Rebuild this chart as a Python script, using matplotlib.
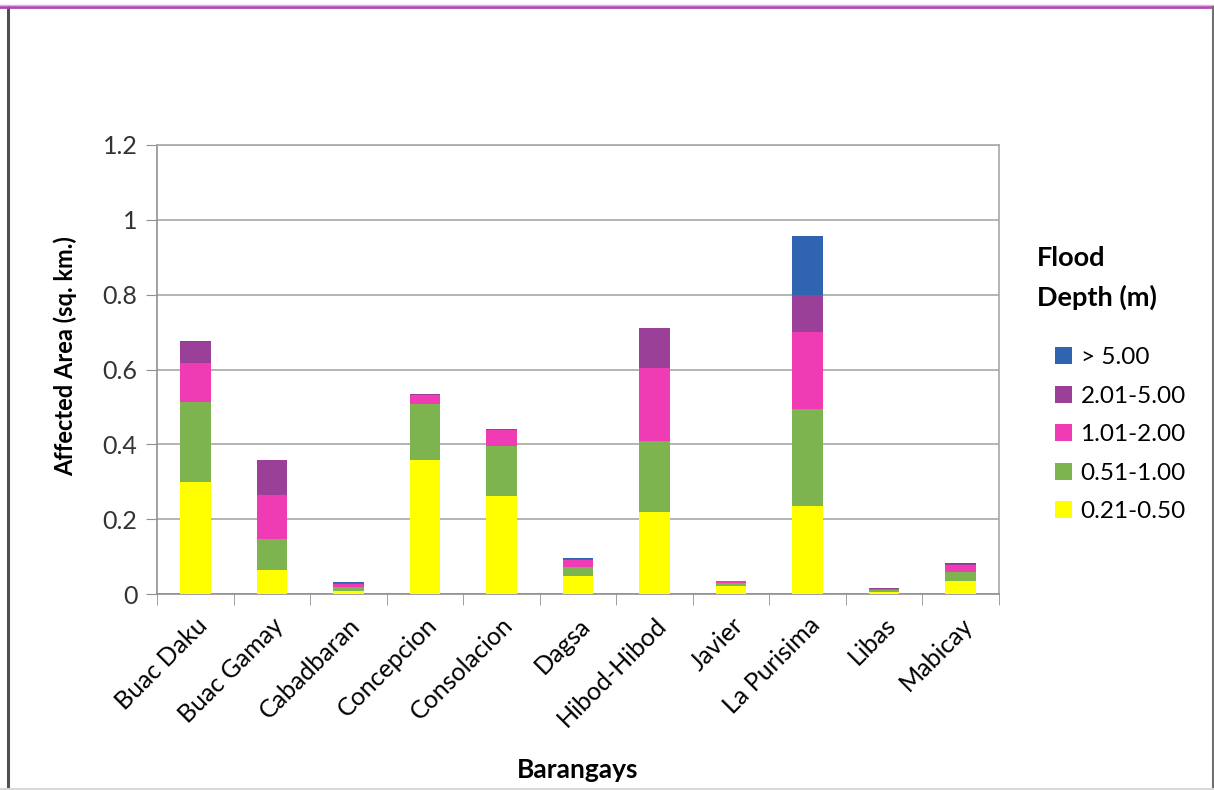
import matplotlib
matplotlib.use("Agg")
import matplotlib.pyplot as plt
from matplotlib.lines import Line2D
from matplotlib.patches import Patch
import numpy as np

plt.rcParams['font.family'] = ['Lato', 'DejaVu Sans']

barangays = ["Buac Daku", "Buac Gamay", "Cabadbaran", "Concepcion", "Consolacion",
             "Dagsa", "Hibod-Hibod", "Javier", "La Purisima", "Libas", "Mabicay"]

depth_021_050 = [0.298, 0.065, 0.008, 0.357, 0.261, 0.049, 0.220, 0.021, 0.236, 0.006, 0.035]
depth_051_100 = [0.214, 0.083, 0.010, 0.151, 0.134, 0.024, 0.188, 0.008, 0.258, 0.005, 0.023]
depth_101_200 = [0.106, 0.117, 0.008, 0.024, 0.043, 0.018, 0.195, 0.005, 0.205, 0.002, 0.019]
depth_201_500 = [0.055, 0.092, 0.003, 0.002, 0.002, 0.002, 0.108, 0.001, 0.099, 0.002, 0.003]
depth_over_5 = [0.003, 0.000, 0.003, 0.000, 0.000, 0.004, 0.000, 0.000, 0.159, 0.002, 0.003]

series_labels = ["0.21-0.50", "0.51-1.00", "1.01-2.00", "2.01-5.00", "> 5.00"]
series_values = [depth_021_050, depth_051_100, depth_101_200, depth_201_500, depth_over_5]
series_colors = ["#FFFF00", "#7DB450", "#F03CB4", "#9A4098", "#2E64B0"]

W, H = 1214, 790
fig = plt.figure(figsize=(W / 100, H / 100), dpi=100)
fig.patch.set_facecolor("white")

# outer chart frame
fig.add_artist(Line2D([8 / W, 8 / W], [0, 1 - 7 / H], color="#505050", lw=2.2, transform=fig.transFigure))
fig.add_artist(Line2D([0, 1], [1 - 6.5 / H, 1 - 6.5 / H], color="#B048B0", lw=2.0, transform=fig.transFigure))
fig.add_artist(Line2D([0, 1], [1 - 5 / H, 1 - 5 / H], color="#F4A0F0", lw=1.0, transform=fig.transFigure))
fig.add_artist(Line2D([1212.5 / W, 1212.5 / W], [0, 1 - 7 / H], color="#707070", lw=1.5, transform=fig.transFigure))
fig.add_artist(Line2D([0, 1], [1.2 / H, 1.2 / H], color="#D8D8D8", lw=1.5, transform=fig.transFigure))

left, right, top, bottom = 157, 999, 145, 594
ax = fig.add_axes([left / W, 1 - bottom / H, (right - left) / W, (bottom - top) / H])

x = np.arange(len(barangays))
base = np.zeros(len(barangays))
for vals, lab, col in zip(series_values, series_labels, series_colors):
    vals = np.array(vals)
    ax.bar(x, vals, width=0.4, bottom=base, color=col, label=lab,
           edgecolor="none", linewidth=0, zorder=3)
    base += vals

ax.set_xlim(-0.5, len(barangays) - 0.5)
ax.set_ylim(0, 1.2)
ax.set_yticks(np.arange(0, 1.21, 0.2))
ax.set_yticklabels(["0", "0.2", "0.4", "0.6", "0.8", "1", "1.2"], fontsize=18, color="#333333")
ax.yaxis.grid(True, color="#A8A8A8", lw=1.2, zorder=0)
ax.tick_params(axis="y", length=8, color="#909090", pad=6)

ax.set_xticks(x)
ax.set_xticklabels(barangays, rotation=45, ha="right", rotation_mode="anchor", fontsize=18)
ax.set_xticks(np.arange(-0.5, len(barangays), 1.0), minor=True)
ax.tick_params(axis="x", which="major", length=0, pad=14)
ax.tick_params(axis="x", which="minor", length=8, color="#909090")

for s in ax.spines.values():
    s.set_color("#A8A8A8")
    s.set_linewidth(1.2)
ax.spines["left"].set_color("#909090")
ax.spines["bottom"].set_color("#909090")

fig.text(65 / W, 1 - 356 / H, "Affected Area (sq. km.)", rotation=90, ha="center", va="center",
         fontsize=17, fontweight="bold")
fig.text(578 / W, 1 - 770 / H, "Barangays", ha="center", va="center", fontsize=19, fontweight="bold")

fig.text(1037 / W, 1 - 258 / H, "Flood", ha="left", va="center", fontsize=19.5, fontweight="bold")
fig.text(1037 / W, 1 - 297 / H, "Depth (m)", ha="left", va="center", fontsize=19.5, fontweight="bold")

handles = [Patch(facecolor=c, edgecolor="none") for c in series_colors][::-1]
labels = series_labels[::-1]
fig.legend(handles, labels, loc="upper left", bbox_to_anchor=(1055 / W, 1 - 347 / H),
           frameon=False, fontsize=17.5, handlelength=0.7, handleheight=0.7,
           handletextpad=0.35, labelspacing=0.72, borderaxespad=0, borderpad=0)

fig.savefig("out.png", dpi=100, facecolor="white")
